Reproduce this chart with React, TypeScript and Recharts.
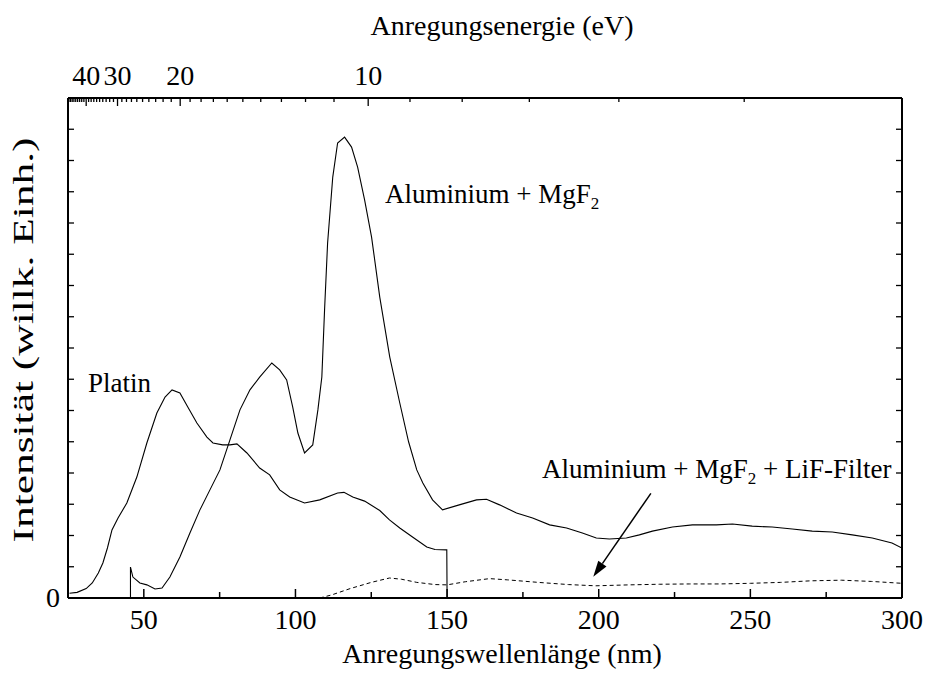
import React from "react";
import { LineChart, Line, XAxis, YAxis, ReferenceLine } from "recharts";

// Platin curve: [wavelength nm, intensity]
const platinPoints: number[][] = [
  [25.5, 0.15], [28, 0.18], [31, 0.3], [33, 0.48], [35, 0.8], [36.5, 1.12], [38, 1.6],
  [39.5, 2.18], [41.5, 2.56], [44.4, 3.04], [47.7, 3.87], [51, 4.96], [54.3, 5.92],
  [57, 6.43], [59.3, 6.66], [61.9, 6.56], [64.5, 6.11], [67.5, 5.6], [70.8, 5.15],
  [72.8, 4.96], [76, 4.9], [78.4, 4.9], [80.7, 4.93], [84, 4.64], [88.2, 4.16],
  [91.5, 3.94], [94.8, 3.46], [98.1, 3.23], [103, 3.04], [108, 3.14], [113.9, 3.36],
  [116, 3.38], [118.9, 3.23], [122.8, 3.1], [127.8, 2.8], [131, 2.5], [134.4, 2.24],
  [138.6, 1.95], [143.3, 1.63], [146, 1.55], [149.9, 1.54], [150, 0],
];

// Aluminium + MgF2 curve
const alMgF2Points: number[][] = [
  [45.6, 0], [45.6, 0.99], [46.4, 0.67], [48.7, 0.48], [51, 0.42], [53.7, 0.29], [56, 0.32],
  [58.6, 0.67], [61.9, 1.31], [65.2, 2.08], [68.5, 2.82], [71.8, 3.46], [75.1, 4.1],
  [78.4, 5.06], [81.7, 6.02], [85, 6.66], [88.2, 7.07], [92.2, 7.52], [94.8, 7.3],
  [97.1, 6.98], [99.1, 6.11], [100.8, 5.28], [103, 4.64], [105.7, 4.9], [107.4, 6.02],
  [108.7, 7.07], [109.6, 9.22], [110.6, 11.36], [112.3, 13.47], [113.9, 14.56],
  [116.2, 14.75], [118.5, 14.43], [120.5, 13.79], [122.8, 12.74], [125.1, 11.55],
  [127.8, 9.63], [131.1, 7.71], [134.4, 6.24], [137.3, 5.0], [140, 4.1], [142, 3.68],
  [145.2, 3.14], [148.5, 2.82], [154, 2.98], [159.7, 3.14], [163, 3.16], [167.3, 2.98],
  [172.9, 2.72], [178.2, 2.56], [183.8, 2.34], [189.4, 2.24], [194.6, 2.08], [199.2, 1.92],
  [203.5, 1.89], [209.1, 1.92], [213.4, 2.02], [217.7, 2.14], [224.3, 2.27], [230.9, 2.34],
  [238.8, 2.34], [244.1, 2.37], [250.6, 2.3], [257.2, 2.27], [263.8, 2.21], [270.4, 2.14],
  [277, 2.11], [283.6, 2.02], [290.2, 1.92], [296.7, 1.76], [300, 1.6],
];

// Aluminium + MgF2 + LiF-Filter curve (dashed)
const lifPoints: number[][] = [
  [108, 0], [112, 0.1], [118, 0.3], [125, 0.5], [131, 0.64], [135, 0.6], [140, 0.5],
  [146, 0.43], [150, 0.42], [156, 0.52], [164, 0.62], [170, 0.58], [180, 0.5], [190, 0.43],
  [199, 0.39], [210, 0.42], [220, 0.44], [230, 0.45], [240, 0.45], [250, 0.47], [260, 0.5],
  [270, 0.55], [280, 0.57], [290, 0.53], [300, 0.47],
];

const bottomTicks = [50, 75, 100, 125, 150, 175, 200, 225, 250, 275, 300];
const bottomMajor = [50, 100, 150, 200, 250, 300];
const topEnergies = [5, 6, 7, 8, 9, 10, 11, 12, 13, 14, 15, 16, 17, 18, 19, 20, 21, 22, 23, 24, 25, 26, 27, 28, 29, 30, 31, 32, 33, 34, 35, 36, 37, 38, 39, 40, 41, 42, 43, 44, 45, 46, 47, 48, 49];
const topMajor = [10, 20, 30, 40];
const yTicks = [0, 1, 2, 3, 4, 5, 6, 7, 8, 9, 10, 11, 12, 13, 14, 15, 16];
const yLabels = [0];
const HC = 1239.84;

const toRows = (pts: number[][]) => pts.map(([nm, v]) => ({ nm, v }));
const platinData = toRows(platinPoints);
const alData = toRows(alMgF2Points);
const lifData = toRows(lifPoints);
const topTicks = topEnergies.map((e) => HC / e);

const FONT = "'Liberation Serif', 'Times New Roman', serif";

const BottomTick = (p: any) => {
  const { x, y, payload } = p;
  const major = bottomMajor.includes(payload.value);
  return (
    <g>
      <line x1={x} y1={y} x2={x} y2={y - (major ? 9 : 6)} stroke="#000" strokeWidth={1.5} />
      {major && (
        <text x={x} y={y + 31} textAnchor="middle" fontSize={28} fontFamily={FONT} fill="#000">
          {payload.value}
        </text>
      )}
    </g>
  );
};

const TopTick = (p: any) => {
  const { x, y, payload } = p;
  const e = Math.round(HC / payload.value);
  const major = topMajor.includes(e);
  return (
    <g>
      <line x1={x} y1={y} x2={x} y2={y + (major ? 8 : 4)} stroke="#000" strokeWidth={1.3} />
      {major && (
        <text x={x} y={y - 13} textAnchor="middle" fontSize={28} fontFamily={FONT} fill="#000">
          {e}
        </text>
      )}
    </g>
  );
};

const LeftTick = (p: any) => {
  const { x, y, payload } = p;
  return (
    <g>
      <line x1={x} y1={y} x2={x + 6} y2={y} stroke="#000" strokeWidth={1.3} />
      {yLabels.includes(payload.value) && (
        <text x={x - 8} y={y + 9} textAnchor="end" fontSize={28} fontFamily={FONT} fill="#000">
          {payload.value}
        </text>
      )}
    </g>
  );
};

const RightTick = (p: any) => {
  const { x, y } = p;
  return <line x1={x} y1={y} x2={x - 6} y2={y} stroke="#000" strokeWidth={1.3} />;
};

const Arrow = (p: any) => {
  const { x1, y1, x2, y2 } = p;
  const ang = Math.atan2(y2 - y1, x2 - x1);
  const L = 16;
  const W = 5;
  const bx = x2 - L * Math.cos(ang);
  const by = y2 - L * Math.sin(ang);
  const px = -Math.sin(ang) * W;
  const py = Math.cos(ang) * W;
  return (
    <g>
      <line x1={x1} y1={y1} x2={bx} y2={by} stroke="#000" strokeWidth={1.5} />
      <polygon points={`${x2},${y2} ${bx + px},${by + py} ${bx - px},${by - py}`} fill="#000" />
    </g>
  );
};

const axisCommon = {
  tickSize: 0,
  tickMargin: 0,
  tickLine: false,
  interval: 0 as const,
  allowDataOverflow: true,
  axisLine: { stroke: "#000", strokeWidth: 2 },
};

export default function App() {
  return (
    <div style={{ position: "absolute", left: 0, top: 0, width: 925, height: 680, background: "#fff" }}>
      <LineChart width={925} height={680} margin={{ top: 97, right: 22, bottom: 81, left: 67 }}>
        <XAxis
          {...axisCommon}
          xAxisId="bottom"
          dataKey="nm"
          type="number"
          domain={[25, 300]}
          ticks={bottomTicks}
          height={1}
          tick={BottomTick}
        />
        <XAxis
          {...axisCommon}
          xAxisId="top"
          orientation="top"
          dataKey="nm"
          type="number"
          domain={[25, 300]}
          ticks={topTicks}
          height={1}
          tick={TopTick}
        />
        <YAxis
          {...axisCommon}
          yAxisId="left"
          type="number"
          domain={[0, 16]}
          ticks={yTicks}
          width={1}
          tick={LeftTick}
        />
        <YAxis
          {...axisCommon}
          yAxisId="right"
          orientation="right"
          type="number"
          domain={[0, 16]}
          ticks={yTicks}
          width={1}
          tick={RightTick}
        />
        <Line
          xAxisId="bottom"
          yAxisId="left"
          data={platinData}
          dataKey="v"
          type="linear"
          stroke="#000"
          strokeWidth={1.1}
          dot={false}
          isAnimationActive={false}
        />
        <Line
          xAxisId="bottom"
          yAxisId="left"
          data={alData}
          dataKey="v"
          type="linear"
          stroke="#000"
          strokeWidth={1.1}
          dot={false}
          isAnimationActive={false}
        />
        <Line
          xAxisId="bottom"
          yAxisId="left"
          data={lifData}
          dataKey="v"
          type="linear"
          stroke="#000"
          strokeWidth={1}
          strokeDasharray="4 3"
          dot={false}
          isAnimationActive={false}
        />
        <ReferenceLine
          xAxisId="bottom"
          yAxisId="left"
          segment={[{ x: 217.2, y: 3.35 }, { x: 198.2, y: 0.68 }]}
          ifOverflow="visible"
          shape={Arrow}
        />
      </LineChart>
      <svg
        width={925}
        height={680}
        style={{ position: "absolute", left: 0, top: 0, pointerEvents: "none" }}
        fontFamily={FONT}
        fill="#000"
      >
        <text x={502} y={35} textAnchor="middle" fontSize={28}>Anregungsenergie (eV)</text>
        <text x={502} y={663} textAnchor="middle" fontSize={28}>Anregungswellenlänge (nm)</text>
        <text
          transform="translate(33,340) rotate(-90)"
          textAnchor="middle"
          fontSize={29}
          textLength={405}
          lengthAdjust="spacingAndGlyphs"
        >
          Intensität (willk. Einh.)
        </text>
        <text x={88} y={392} fontSize={27}>Platin</text>
        <text x={385} y={203} fontSize={27}>
          Aluminium + MgF<tspan fontSize={17} dy={6}>2</tspan>
        </text>
        <text x={542} y={478} fontSize={27}>
          Aluminium + MgF<tspan fontSize={17} dy={6}>2</tspan>
          <tspan dy={-6}> + LiF-Filter</tspan>
        </text>
      </svg>
    </div>
  );
}
